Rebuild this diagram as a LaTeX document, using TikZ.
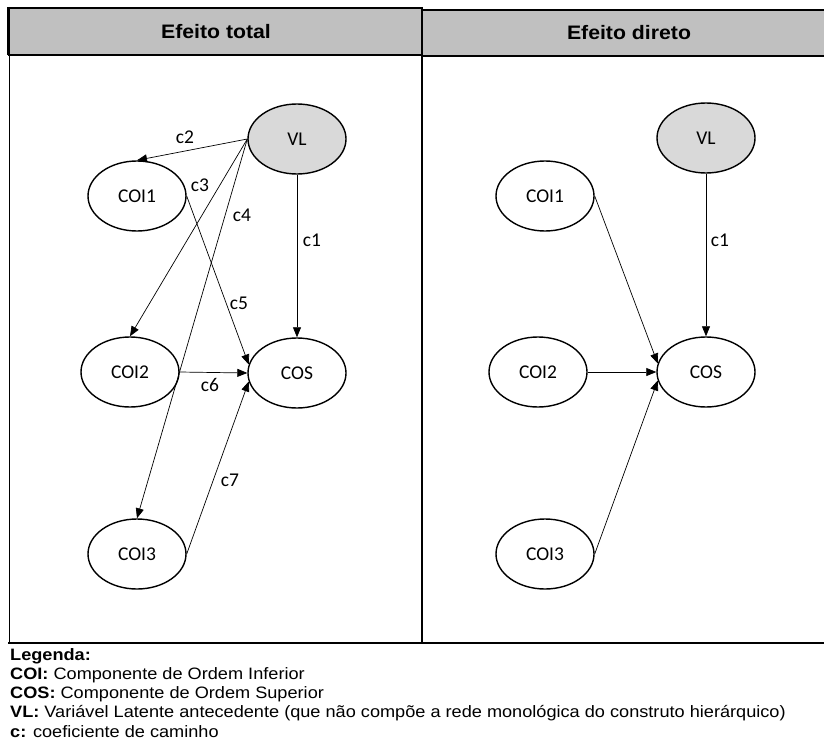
\documentclass[tikz,border=0pt]{standalone}
\usepackage{fontspec}
\setmainfont[FakeStretch=1.1]{Liberation Sans}
\newfontfamily\hdrfont[FakeStretch=1.09]{Liberation Sans}
\newfontfamily\calib{Carlito}
\usetikzlibrary{shapes.geometric,arrows.meta}
\definecolor{hdrgray}{HTML}{C0C0C0}
\definecolor{vlgray}{HTML}{D9D9D9}
\tikzset{
  latvar/.style={ellipse,draw,line width=1.4pt,minimum width=98pt,minimum height=70pt,inner sep=0pt,font=\calib\fontsize{19.5}{22}\selectfont},
  shaded/.style={fill=vlgray},
  path/.style={draw,line width=0.7pt,-{Triangle[length=10pt,width=8pt]}},
  lbl/.style={font=\calib\fontsize{19.5}{22}\selectfont,inner sep=0pt},
  hdr/.style={font=\hdrfont\bfseries\fontsize{19.5}{23}\selectfont,inner sep=0pt},
  leg/.style={font=\fontsize{16.5}{19}\selectfont,inner sep=0pt,anchor=west},
  frame/.style={line width=1.6pt}
}
\begin{document}
\begin{tikzpicture}[x=1pt,y=-1pt]
\useasboundingbox (0,0) rectangle (824,749);
% header
\fill[hdrgray] (8,8) rectangle (422,55);
\fill[hdrgray] (422,10) rectangle (830,56);
\draw[line width=2.2pt] (8,8) -- (422,8);
\draw[line width=2.2pt] (422,10) -- (830,10);
\draw[line width=2pt] (8,55) -- (422,55);
\draw[line width=2pt] (422,56) -- (830,56);
\draw[line width=2.6pt] (8.5,7) -- (8.5,55);
\draw[line width=2.6pt] (422,7) -- (422,56);
\node[hdr] (h1) at (216,32) {Efeito total};
\node[hdr] (h2) at (629,33) {Efeito direto};
% panel frame
\draw[frame] (9.5,55) -- (9.5,643);
\draw[frame] (422,56) -- (422,643);
\draw[frame] (8,643) -- (830,643);
% left panel nodes
\node[latvar,shaded] (VL) at (297,139) {VL};
\node[latvar] (COI1) at (137,196) {COI1};
\node[latvar] (COI2) at (130,372) {COI2};
\node[latvar] (COI3) at (137,554) {COI3};
\node[latvar] (COS) at (297,373) {COS};
\coordinate (vlw) at (VL.west);
\draw[path] (VL.south) -- (COS.north);
\draw[path] (vlw) -- (COI1.north);
\draw[path] (vlw) -- (COI2.north);
\draw[path] (vlw) -- (COI3.north);
\draw[path] (COI1.east) -- (COS.170);
\draw[path] (COI2.east) -- (COS.west);
\draw[path] (COI3.east) -- (COS.190);
\node[lbl] (c1) at (312,240) {c1};
\node[lbl] (c2) at (185,137) {c2};
\node[lbl] (c3) at (200,185) {c3};
\node[lbl] (c4) at (242,215) {c4};
\node[lbl] (c5) at (239,303) {c5};
\node[lbl] (c6) at (210,385) {c6};
\node[lbl] (c7) at (230,480) {c7};
% right panel nodes
\node[latvar,shaded] (VLr) at (706,138) {VL};
\node[latvar] (COI1r) at (545,196) {COI1};
\node[latvar] (COI2r) at (538,372) {COI2};
\node[latvar] (COI3r) at (545,554) {COI3};
\node[latvar] (COSr) at (706,372) {COS};
\draw[path] (VLr.south) -- (COSr.north);
\draw[path] (COI1r.east) -- (COSr.170);
\draw[path] (COI2r.east) -- (COSr.west);
\draw[path] (COI3r.east) -- (COSr.190);
\node[lbl] (c1r) at (720,240) {c1};
% legend
\node[leg] (l0) at (10,656) {\textbf{Legenda:}};
\node[leg] (l1) at (10,675) {\textbf{COI:} Componente de Ordem Inferior};
\node[leg] (l2) at (10,694) {\textbf{COS:} Componente de Ordem Superior};
\node[leg] (l3) at (10,713) {\textbf{VL:} Variável Latente antecedente (que não compõe a rede monológica do construto hierárquico)};
\node[leg] (l4) at (10,732) {\textbf{c:} coeficiente de caminho};
\end{tikzpicture}
\end{document}
